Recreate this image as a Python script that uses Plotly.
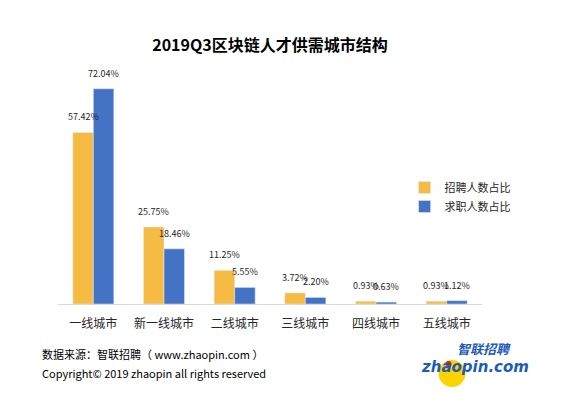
import plotly.graph_objects as go

categories = ["一线城市", "新一线城市", "二线城市", "三线城市", "四线城市", "五线城市"]
recruit = [57.42, 25.75, 11.25, 3.72, 0.93, 0.93]
seekers = [72.04, 18.46, 5.55, 2.20, 0.63, 1.12]
series_names = ["招聘人数占比", "求职人数占比"]

FONT = "Noto Sans CJK SC, Noto Sans, sans-serif"
PW = 576 - 58 - 93.5   # plot width in px
PH = 404 - 65 - 100    # plot height in px

fig = go.Figure()
fig.add_trace(go.Bar(x=categories, y=recruit, name=series_names[0],
                     marker_color="#F6BB43", cliponaxis=False))
fig.add_trace(go.Bar(x=categories, y=seekers, name=series_names[1],
                     marker_color="#4472C4", cliponaxis=False))

bar_w = PW / len(categories) * (1 - 0.42) / 2
for vals, sh in ((recruit, -bar_w / 2), (seekers, bar_w / 2)):
    for c, v in zip(categories, vals):
        fig.add_annotation(x=c, y=v, text=f"{v:.2f}%", showarrow=False,
                           xshift=sh, yshift=7, yanchor="bottom",
                           font=dict(size=9, color="#262626", family=FONT))

# Logo disc (yellow) + red dot, as shapes in pixel-derived paper coords
logo_shapes = [
    dict(type="circle", xref="paper", yref="paper",
         x0=(439 - 58) / PW, x1=(466 - 58) / PW,
         y0=-(387 - 304) / PH, y1=-(360 - 304) / PH,
         fillcolor="#FFD200", line=dict(width=0), layer="above", opacity=1),
    dict(type="circle", xref="paper", yref="paper",
         x0=(446 - 58) / PW, x1=(452 - 58) / PW,
         y0=-(367 - 304) / PH, y1=-(361 - 304) / PH,
         fillcolor="#D62020", line=dict(width=0), layer="above", opacity=1),
]

fig.update_layout(
    width=576, height=404,
    margin=dict(l=58, r=93.5, t=65, b=100),
    paper_bgcolor="white", plot_bgcolor="white",
    barmode="group", bargap=0.42, bargroupgap=0,
    font=dict(family=FONT, color="#262626"),
    title=dict(text="<b>2019Q3区块链人才供需城市结构</b>", x=0.5, xref="paper",
               y=1 - 45 / 404, yanchor="middle",
               font=dict(size=16, color="#000000", family=FONT)),
    legend=dict(x=(405 - 58) / PW, y=(304 - 173) / PH, xanchor="left", yanchor="top",
                font=dict(size=11, color="#262626", family=FONT),
                itemwidth=30, bgcolor="rgba(0,0,0,0)"),
    xaxis=dict(showline=True, linecolor="#D9D9D9", linewidth=1, ticks="",
               tickfont=dict(size=12, color="#262626", family=FONT),
               ticklabelstandoff=9, showgrid=False),
    yaxis=dict(range=[0, 80], visible=False, showgrid=False),
    showlegend=True,
    shapes=logo_shapes,
)

# Source text
fig.add_annotation(text="数据来源：智联招聘（ www.zhaopin.com ）", xref="paper", yref="paper",
                   x=-18 / PW, y=-(354 - 304) / PH, xanchor="left", yanchor="middle",
                   showarrow=False, font=dict(size=11, color="#000000", family=FONT))
fig.add_annotation(text="Copyright© 2019 zhaopin all rights reserved", xref="paper", yref="paper",
                   x=-18 / PW, y=-(373 - 304) / PH, xanchor="left", yanchor="middle",
                   showarrow=False, font=dict(size=11, color="#000000", family=FONT))

fig.add_annotation(text="<b><i>智联招聘</i></b>", xref="paper", yref="paper",
                   x=(485 - 58) / PW, y=-(348 - 304) / PH, xanchor="center", yanchor="middle",
                   showarrow=False, font=dict(size=13, color="#1E5BB8", family=FONT))
fig.add_annotation(text="<b><i>zhaopin.com</i></b>", xref="paper", yref="paper",
                   x=(475 - 58) / PW, y=-(367 - 304) / PH, xanchor="center", yanchor="middle",
                   showarrow=False, font=dict(size=15, color="#1E5BB8", family="DejaVu Sans, sans-serif"))

fig.write_html("out.html", config={"displayModeBar": False},
               post_script="document.body.style.margin='0';")
